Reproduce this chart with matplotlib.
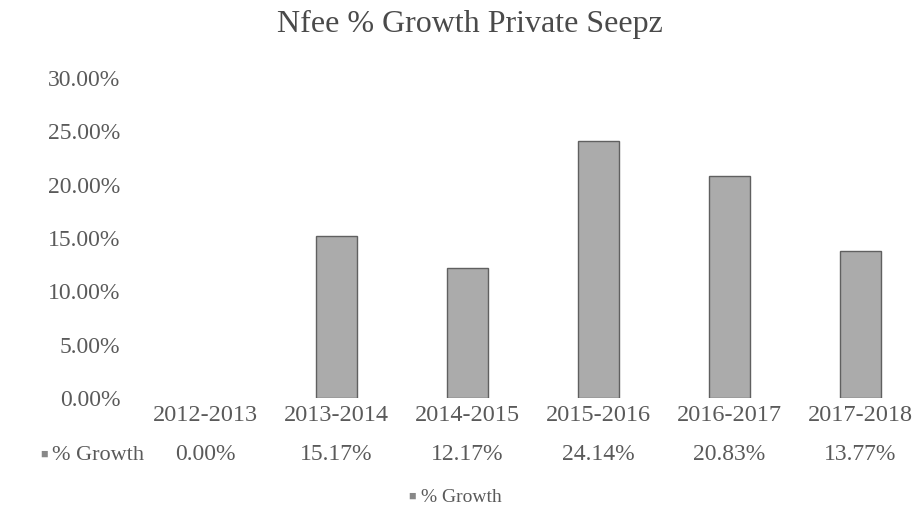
import matplotlib
matplotlib.use("Agg")
import matplotlib.pyplot as plt
from matplotlib.transforms import blended_transform_factory

years = ["2012-2013", "2013-2014", "2014-2015", "2015-2016", "2016-2017", "2017-2018"]
growth = [0.00, 15.17, 12.17, 24.14, 20.83, 13.77]
yticks = [0, 5, 10, 15, 20, 25, 30]
series_name = "% Growth"
title = "Nfee % Growth Private Seepz"

plt.rcParams["font.family"] = ["Liberation Serif", "DejaVu Sans"]
txt = "#5a5a5a"
bar_color = "#ababab"

fig = plt.figure(figsize=(9.18, 5.13), dpi=100)
ax = fig.add_axes([140 / 918, 1 - 398 / 513, 786 / 918, 320 / 513])

x = list(range(len(years)))
edges = ["#606060" if v > 0 else "none" for v in growth]
ax.bar(x, growth, width=0.32, color=bar_color, edgecolor=edges, linewidth=1.0)

ax.set_xlim(-0.5, len(years) - 0.5)
ax.set_ylim(0, 30)
ax.set_yticks(yticks)
ax.set_yticklabels([f"{v:.2f}%" for v in yticks], color=txt, fontsize=17)
ax.tick_params(axis="y", length=0, pad=14)
ax.set_xticks([])
for s in ax.spines.values():
    s.set_visible(False)

# data table under the chart
tr = blended_transform_factory(ax.transData, ax.transAxes)
for i, (yr, v) in enumerate(zip(years, growth)):
    ax.text(i, -0.055, yr, transform=tr, ha="center", va="center", fontsize=17.5, color=txt)
    ax.text(i, -0.178, f"{v:.2f}%", transform=tr, ha="center", va="center", fontsize=17, color=txt)

fig.text(40 / 918, 1 - 455 / 513, "\u25a0", ha="left", va="center", fontsize=9, color="#888888")
fig.text(52 / 918, 1 - 455 / 513, series_name, ha="left", va="center", fontsize=16, color=txt)

# legend
fig.text(408 / 918, 1 - 497 / 513, "\u25a0", ha="left", va="center", fontsize=9, color="#888888")
fig.text(421 / 918, 1 - 497 / 513, series_name, ha="left", va="center", fontsize=14, color=txt)

fig.text(470 / 918, 1 - 24 / 513, title, ha="center", va="center", fontsize=23, color="#4a4a4a")

fig.savefig("out.png", dpi=100, facecolor="white")
